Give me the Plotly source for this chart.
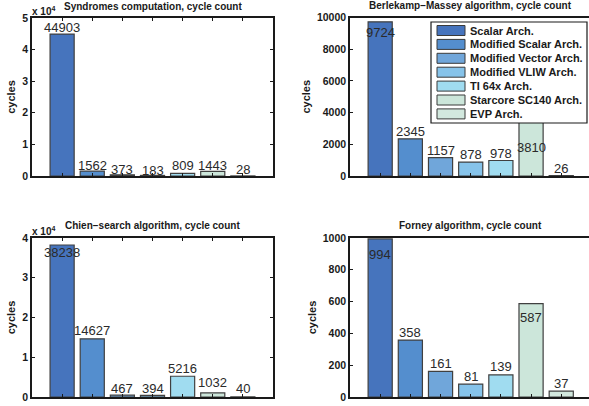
import plotly.graph_objects as go

W, H = 589, 406

archs = ["Scalar Arch.", "Modified Scalar Arch.", "Modified Vector Arch.",
         "Modified VLIW Arch.", "TI 64x Arch.", "Starcore SC140 Arch.", "EVP Arch."]
colors = ["#4674BD", "#548ECE", "#70A6DA", "#86C3EA", "#A0DCF0", "#CCE6DA", "#D2E8DE"]
positions = [1, 2, 3, 4, 5, 6, 7]

syndromes = [44903, 1562, 373, 183, 809, 1443, 28]
berlekamp = [9724, 2345, 1157, 878, 978, 3810, 26]
chien = [38238, 14627, 467, 394, 5216, 1032, 40]
forney = [994, 358, 161, 81, 139, 587, 37]

titles = ["Syndromes computation, cycle count",
          "Berlekamp\u2212Massey algorithm, cycle count",
          "Chien\u2212search algorithm, cycle count",
          "Forney algorithm, cycle count"]

yticks_syn = [0, 10000, 20000, 30000, 40000, 50000]
yticklabels_syn = ["0", "1", "2", "3", "4", "5"]
yticks_ber = [0, 2000, 4000, 6000, 8000, 10000]
yticklabels_ber = ["0", "2000", "4000", "6000", "8000", "10000"]
yticks_chi = [0, 10000, 20000, 30000, 40000]
yticklabels_chi = ["0", "1", "2", "3", "4"]
yticks_for = [0, 200, 400, 600, 800, 1000]
yticklabels_for = ["0", "200", "400", "600", "800", "1000"]

# label vertical offsets (pixels, relative to bar top; positive = above)
shift_syn = [7, 6, 5, 5, 8, 6, 6]
shift_ber = [-11, 7, 7, 8, 7, -32, 7.5]
shift_chi = [-8, 8, 7, 7, 8, 10, 8.5]
shift_for = [-16, 8, 8, 7.5, 8, -14, 8]

panels = [
    dict(vals=syndromes, shifts=shift_syn, tv=yticks_syn, tt=yticklabels_syn, yr=[0, 50000],
         xd=[32 / W, 273 / W], yd=[1 - 176 / H, 1 - 18 / H], xr=[0, 8], mult=True, left=True),
    dict(vals=berlekamp, shifts=shift_ber, tv=yticks_ber, tt=yticklabels_ber, yr=[0, 10000],
         xd=[350 / W, 1.0], yd=[1 - 176 / H, 1 - 17.5 / H], xr=[0, 7.92], mult=False, left=False),
    dict(vals=chien, shifts=shift_chi, tv=yticks_chi, tt=yticklabels_chi, yr=[0, 40000],
         xd=[32 / W, 273 / W], yd=[1 - 397 / H, 1 - 238 / H], xr=[0, 8], mult=True, left=True),
    dict(vals=forney, shifts=shift_for, tv=yticks_for, tt=yticklabels_for, yr=[0, 1000],
         xd=[350 / W, 1.0], yd=[1 - 397 / H, 1 - 238 / H], xr=[0, 7.92], mult=False, left=False),
]

FONT = "Liberation Sans, Arial, sans-serif"
fig = go.Figure()
annotations = []
shapes = []

for i, p in enumerate(panels):
    n = "" if i == 0 else str(i + 1)
    xa, ya = "x" + n, "y" + n
    fig.add_trace(go.Bar(
        x=positions, y=p["vals"], width=0.8, xaxis=xa, yaxis=ya,
        marker=dict(color=colors, line=dict(color="#404040", width=1.2)),
        showlegend=False, hoverinfo="skip",
    ))
    fig.layout["xaxis" + n] = dict(
        domain=p["xd"], anchor=ya, range=p["xr"], showgrid=False, zeroline=False,
        showline=True, linecolor="#1a1a1a", linewidth=1.5, mirror="ticks" if p["left"] else True,
        tickvals=positions, showticklabels=False, ticks="inside", ticklen=3,
        tickcolor="#1a1a1a", fixedrange=True, automargin=False,
    )
    fig.layout["yaxis" + n] = dict(
        domain=p["yd"], anchor=xa, range=p["yr"], showgrid=False, zeroline=False,
        showline=True, linecolor="#1a1a1a", linewidth=1.5,
        mirror="ticks" if p["left"] else False,
        tickvals=p["tv"], ticktext=p["tt"], ticks="inside", ticklen=3, tickcolor="#1a1a1a",
        tickfont=dict(family=FONT, size=10.5, color="#1a1a1a", weight="bold"),
        title=dict(text="<b>cycles</b>", font=dict(family=FONT, size=11, color="#1a1a1a"),
                   standoff=4),
        fixedrange=True, automargin=False,
    )
    # value labels
    for x, v, s in zip(positions, p["vals"], p["shifts"]):
        annotations.append(dict(
            x=x, y=v, xref=xa, yref=ya, text=str(v), showarrow=False,
            yanchor="middle", yshift=s, font=dict(family=FONT, size=13, color="#2a2a2a"),
        ))
    # title
    if p["left"]:
        cx = (p["xd"][0] + p["xd"][1]) / 2
    else:
        cx = (350 + 591) / 2 / W
    annotations.append(dict(
        x=cx, y=p["yd"][1], xref="paper", yref="paper", text="<b>" + titles[i] + "</b>",
        showarrow=False, xanchor="center", yanchor="middle", yshift=12,
        font=dict(family=FONT, size=10, color="#1a1a1a"),
    ))
    if p["mult"]:
        annotations.append(dict(
            x=p["xd"][0], y=p["yd"][1], xref="paper", yref="paper",
            text="<b>x 10<sup>4</sup></b>", showarrow=False, xanchor="left", yanchor="bottom",
            xshift=-2, yshift=-1, font=dict(family=FONT, size=10, color="#1a1a1a"),
        ))

# manual legend (pixel layout converted to paper coords)
def px(x):
    return x / W

def py(y):
    return 1 - y / H

shapes.append(dict(type="rect", xref="paper", yref="paper",
                   x0=px(431), x1=px(587), y0=py(123), y1=py(22),
                   line=dict(color="#1a1a1a", width=1.2), fillcolor="white", layer="above"))
for k, (name, c) in enumerate(zip(archs, colors)):
    yc = 30.5 + 13.9 * k
    shapes.append(dict(type="rect", xref="paper", yref="paper",
                       x0=px(437), x1=px(465), y0=py(yc + 5), y1=py(yc - 5),
                       line=dict(color="#3a3a3a", width=1), fillcolor=c, layer="above"))
    annotations.append(dict(x=px(468), y=py(yc), xref="paper", yref="paper",
                            text="<b>" + name + "</b>", showarrow=False,
                            xanchor="left", yanchor="middle",
                            font=dict(family=FONT, size=11, color="#1a1a1a")))

fig.update_layout(
    width=W, height=H, margin=dict(l=0, r=0, t=0, b=0, autoexpand=False),
    paper_bgcolor="white", plot_bgcolor="white",
    annotations=annotations, shapes=shapes, showlegend=False,
    font=dict(family=FONT), hovermode=False,
)

fig.write_html("out.html", config={"displayModeBar": False},
               post_script="document.body.style.margin='0';document.body.style.overflow='hidden';")
